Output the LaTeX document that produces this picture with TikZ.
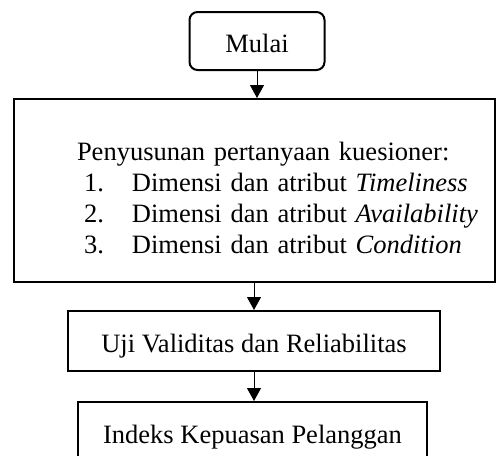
\documentclass[tikz,border=0pt]{standalone}
\usepackage{fontspec}
\setmainfont{Liberation Serif}
\usetikzlibrary{arrows.meta}
\begin{document}
\begin{tikzpicture}[x=0.5pt,y=-0.5pt,
		every node/.style={font=\fontsize{13.25pt}{15.5pt}\selectfont},
		box/.style={draw,line width=1pt,inner sep=0pt},
		proc/.style={box,text height=12pt,text depth=1pt,minimum height=30pt},
		arr/.style={line width=0.5pt,-{Triangle[length=6.5pt,width=7pt]}}]
		\useasboundingbox (0,0) rectangle (496,455);
		\node[proc,rounded corners=4pt,minimum width=67.5pt,minimum height=29pt] (mulai) at (257,41) {Mulai};
		\node[box,minimum width=240.5pt,minimum height=91.5pt,text width=240.5pt,align=left] (kuesioner) at (254.5,190.5)
			{\begin{tabular}{@{\hspace{35pt}}p{24pt}@{}l@{}}
				\multicolumn{2}{@{\hspace{31.5pt}}l@{}}{\rule{0pt}{21pt}Penyusunan pertanyaan kuesioner:}\\
				1. & Dimensi dan atribut \textit{Timeliness}\\
				2. & Dimensi dan atribut \textit{Availability}\\
				3. & Dimensi dan atribut \textit{Condition}
			\end{tabular}};
		\node[proc,minimum width=186pt] (uji) at (254,341) {Uji Validitas dan Reliabilitas};
		\node[proc,minimum width=174.5pt] (indeks) at (252.5,432) {Indeks Kepuasan Pelanggan};
		\draw[arr] (mulai.south) -- (mulai.south |- kuesioner.north);
		\draw[arr] (kuesioner.south -| uji.north) -- (uji.north);
		\draw[arr] (uji.south) -- (uji.south |- indeks.north);
	\end{tikzpicture}
\end{document}
